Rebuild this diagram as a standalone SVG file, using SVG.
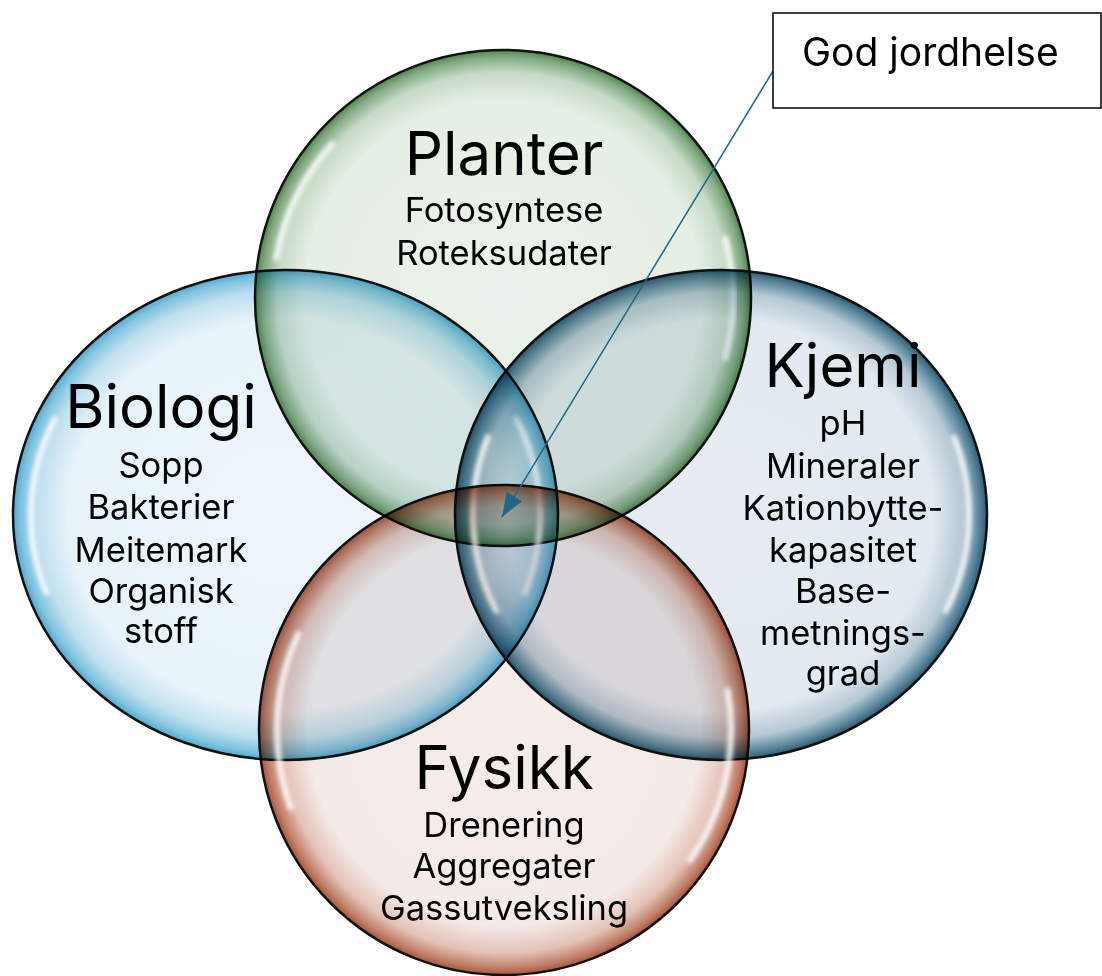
<svg xmlns="http://www.w3.org/2000/svg" width="1102" height="976" viewBox="0 0 1102 976">
<style>
.bub{stroke:#111;stroke-width:2.5;mix-blend-mode:multiply}
.hl{fill:none;stroke:#fff;stroke-width:6;stroke-linecap:round;opacity:0.85;filter:url(#blur)}
.t{font-family:Inter,"Open Sans","Liberation Sans",sans-serif;fill:#000;text-anchor:middle}
.big{font-size:60px}
.small{font-size:34.5px}
.box{fill:#fff;stroke:#000;stroke-width:1.5}
.conn{stroke:#1F6688;stroke-width:1.5;fill:none}
</style>
<defs>
<filter id="blur" x="-50%" y="-50%" width="200%" height="200%"><feGaussianBlur stdDeviation="2"/></filter>
<radialGradient id="gGreen" cx="50%" cy="50%" r="50%">
<stop offset="0" stop-color="#EBF2EB"/>
<stop offset="0.8" stop-color="#E6EFE6"/>
<stop offset="0.91" stop-color="#C6DAC6"/>
<stop offset="0.97" stop-color="#84AB84"/>
<stop offset="1" stop-color="#52854F"/>
</radialGradient>
<radialGradient id="gBlue" cx="50%" cy="50%" r="50%">
<stop offset="0" stop-color="#EEF6FC"/>
<stop offset="0.8" stop-color="#E8F3FA"/>
<stop offset="0.91" stop-color="#C0E0F0"/>
<stop offset="0.97" stop-color="#82C4E0"/>
<stop offset="1" stop-color="#52A9CF"/>
</radialGradient>
<radialGradient id="gSlate" cx="50%" cy="50%" r="50%">
<stop offset="0" stop-color="#E6ECF2"/>
<stop offset="0.8" stop-color="#E2E9F0"/>
<stop offset="0.91" stop-color="#B6C8D4"/>
<stop offset="0.97" stop-color="#5A869C"/>
<stop offset="1" stop-color="#2B5A72"/>
</radialGradient>
<radialGradient id="gRed" cx="50%" cy="50%" r="50%">
<stop offset="0" stop-color="#F6EDEB"/>
<stop offset="0.8" stop-color="#F4EAE7"/>
<stop offset="0.91" stop-color="#E3C2B7"/>
<stop offset="0.97" stop-color="#C28069"/>
<stop offset="1" stop-color="#A4573E"/>
</radialGradient>
<marker id="arrow" markerUnits="userSpaceOnUse" markerWidth="26" markerHeight="20" refX="24" refY="9" orient="auto">
<path d="M0,0 L24,9 L0,18 z" fill="#1F6688"/>
</marker>
</defs>

<g id="planter">
<ellipse class="bub" cx="503" cy="298" rx="248" ry="248" fill="url(#gGreen)"/>
<path class="hl" d="M276.4,258 A230,230 0 0 1 332.1,144.1"/>
<path class="hl" d="M725.2,238.4 A230,230 0 0 1 725.2,357.6"/>
</g>
<g id="biologi">
<ellipse class="bub" cx="285.5" cy="515" rx="272.5" ry="245" fill="url(#gBlue)"/>
<path class="hl" d="M46.3,592.6 A254.5,227 0 0 1 54.9,419"/>
<path class="hl" d="M516.1,419 A254.5,227 0 0 1 524.7,592.6"/>
</g>
<g id="kjemi">
<ellipse class="bub" cx="721" cy="515" rx="266" ry="245" fill="url(#gSlate)"/>
<path class="hl" d="M496.3,611 A248,227 0 0 1 487.9,437.4"/>
<path class="hl" d="M954.1,437.4 A248,227 0 0 1 945.7,611"/>
</g>
<g id="fysikk">
<ellipse class="bub" cx="504" cy="730" rx="245" ry="245" fill="url(#gRed)"/>
<path class="hl" d="M290.7,807.6 A227,227 0 0 1 298.3,634.1"/>
<path class="hl" d="M727.6,690.5 A227,227 0 0 1 689.9,860.3"/>
</g>

<g id="planter-text">
<text class="t big" x="504" y="175">Planter</text>
<text class="t small" x="504" y="222">Fotosyntese</text>
<text class="t small" x="504" y="265">Roteksudater</text>
</g>
<g id="biologi-text">
<text class="t big" x="161" y="428">Biologi</text>
<text class="t small" x="161" y="477">Sopp</text>
<text class="t small" x="161" y="519">Bakterier</text>
<text class="t small" x="161" y="562">Meitemark</text>
<text class="t small" x="161" y="603">Organisk</text>
<text class="t small" x="161" y="643">stoff</text>
</g>
<g id="kjemi-text">
<text class="t big" x="843" y="387">Kjemi</text>
<text class="t small" x="843" y="435">pH</text>
<text class="t small" x="843" y="478">Mineraler</text>
<text class="t small" x="843" y="520">Kationbytte-</text>
<text class="t small" x="843" y="562">kapasitet</text>
<text class="t small" x="843" y="603">Base-</text>
<text class="t small" x="843" y="645">metnings-</text>
<text class="t small" x="843" y="685">grad</text>
</g>
<g id="fysikk-text">
<text class="t big" x="504" y="789">Fysikk</text>
<text class="t small" x="504" y="837">Drenering</text>
<text class="t small" x="504" y="878">Aggregater</text>
<text class="t small" x="504" y="920">Gassutveksling</text>
</g>

<g id="connectors">
<line class="conn" x1="773" y1="71" x2="502" y2="517" marker-end="url(#arrow)"/>
</g>

<g id="god-jordhelse">
<rect class="box" x="773" y="13" width="328" height="95"/>
<text x="802" y="66" font-family="Inter,'Open Sans','Liberation Sans',sans-serif" font-size="39" fill="#000">God jordhelse</text>
</g>
</svg>
